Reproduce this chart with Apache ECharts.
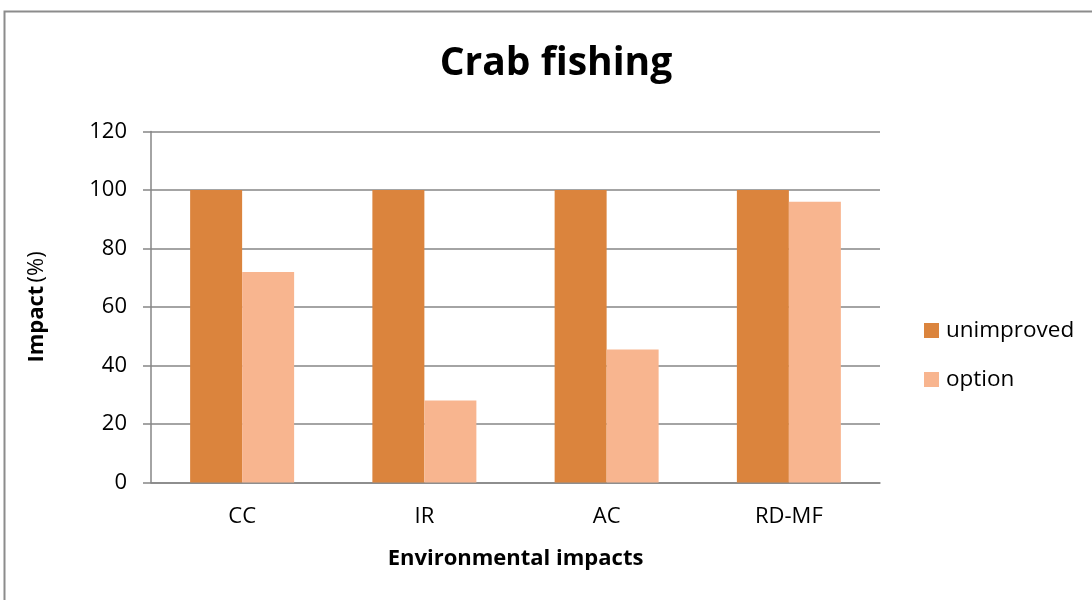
<!DOCTYPE html>
<html>
<head>
<meta charset="utf-8">
<script src="https://cdn.jsdelivr.net/npm/echarts@6/dist/echarts.min.js"></script>
<style>
  html, body { margin: 0; padding: 0; background: #fff; }
  #chart { width: 1092px; height: 600px; }
</style>
</head>
<body>
<div id="chart"></div>
<script>
// Environmental impact categories and the two scenarios
const categories = ['CC', 'IR', 'AC', 'RD-MF'];
const unimproved = [100, 100, 100, 100];
const option = [72, 28, 45.5, 96];
const yTicks = { min: 0, max: 120, interval: 20 };

const FONT = '"Open Sans", "Noto Sans", sans-serif';
const chart = echarts.init(document.getElementById('chart'));

chart.setOption({
  animation: false,
  backgroundColor: '#ffffff',
  textStyle: { fontFamily: FONT },
  title: {
    text: 'Crab fishing',
    left: 551, top: 39, textAlign: 'center',
    textStyle: { fontSize: 39, fontWeight: 'bold', color: '#000', fontFamily: FONT }
  },
  graphic: [{
    type: 'rect',
    shape: { x: 4.5, y: 11.5, width: 1200, height: 700 },
    style: { fill: 'none', stroke: '#8c8c8c', lineWidth: 2 },
    silent: true
  }],
  legend: {
    orient: 'vertical',
    left: 919, top: 314,
    itemWidth: 15, itemHeight: 15, itemGap: 26,
    icon: 'rect',
    textStyle: { fontSize: 22.5, color: '#000', fontFamily: FONT, padding: [0, 0, 0, 2] },
    data: ['unimproved', 'option']
  },
  grid: { left: 151, right: 212, top: 131.5, bottom: 117.5 },
  xAxis: {
    type: 'category',
    data: categories,
    name: 'Environmental impacts',
    nameLocation: 'middle',
    nameGap: 65,
    nameTextStyle: { fontSize: 22, fontWeight: 'bold', color: '#000', fontFamily: FONT },
    axisLine: { lineStyle: { color: '#868686', width: 1.5 } },
    axisTick: { show: false },
    axisLabel: { fontSize: 22, color: '#000', margin: 23, fontFamily: FONT }
  },
  yAxis: {
    type: 'value',
    min: yTicks.min, max: yTicks.max, interval: yTicks.interval,
    name: '{b|Impact} {n|(%)}',
    nameLocation: 'middle',
    nameRotate: 90,
    nameGap: 103,
    nameTextStyle: {
      color: '#000',
      rich: {
        b: { fontSize: 22, fontWeight: 'bold', fontFamily: FONT, color: '#000' },
        n: { fontSize: 22, fontFamily: FONT, color: '#000' }
      }
    },
    axisLine: { show: true, lineStyle: { color: '#868686', width: 1.5 } },
    axisTick: { show: true, length: 8, lineStyle: { color: '#868686', width: 1.5 } },
    axisLabel: { fontSize: 22, color: '#000', margin: 24, fontFamily: FONT },
    splitLine: { lineStyle: { color: '#868686', width: 1.5 } }
  },
  series: [
    {
      name: 'unimproved', type: 'bar', data: unimproved,
      barWidth: 52, barGap: '0%',
      itemStyle: { color: '#DB843D' }
    },
    {
      name: 'option', type: 'bar', data: option,
      barWidth: 52,
      itemStyle: { color: '#F8B58F' }
    }
  ]
});
</script>
</body>
</html>
